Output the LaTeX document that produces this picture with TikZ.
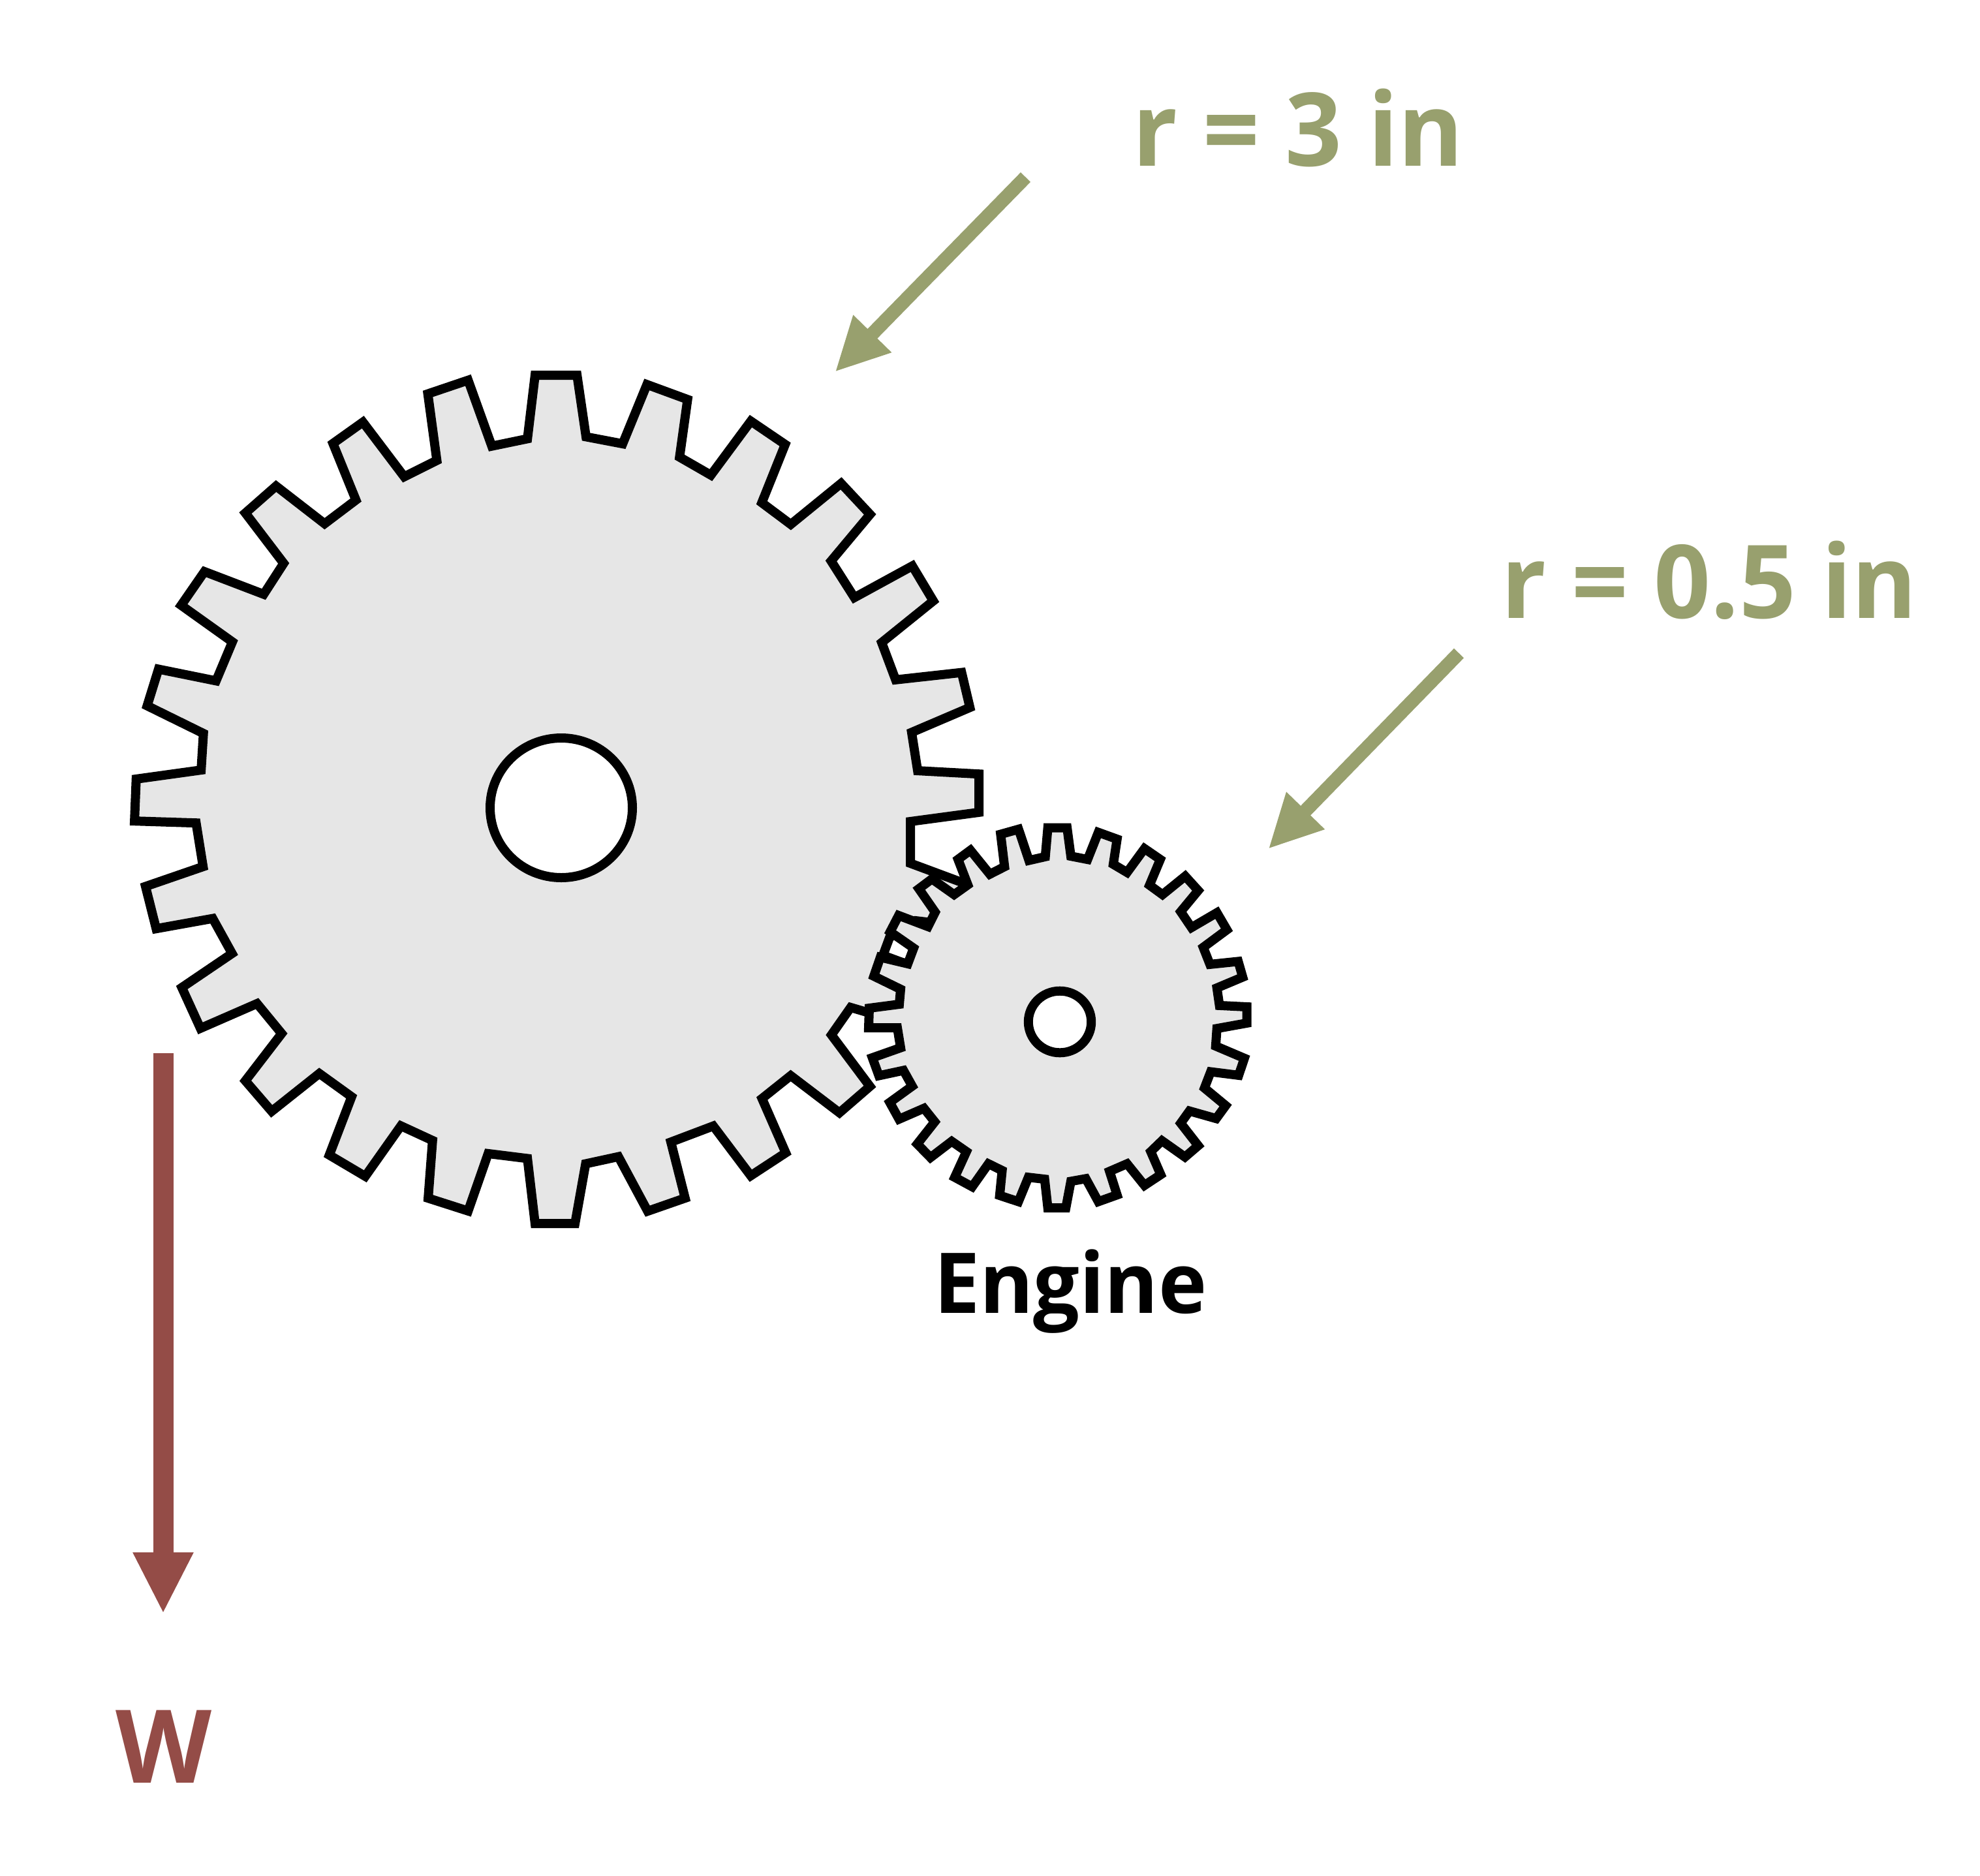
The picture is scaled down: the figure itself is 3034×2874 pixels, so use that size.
\documentclass[tikz,border=0pt]{standalone}
\usepackage{fontspec}
\setmainfont{Open Sans}[FakeStretch=0.975]
\usetikzlibrary{arrows.meta}
\definecolor{gearfill}{HTML}{E6E6E6}
\definecolor{olivetone}{HTML}{98A06E}
\definecolor{bricktone}{HTML}{944C47}
\tikzset{
  gearbody/.style={draw=black,fill=gearfill,line width=7pt,line join=miter,miter limit=10},
  gearhole/.style={draw=black,fill=white,line width=7pt},
  labeltext/.style={anchor=base west,inner sep=0pt,outer sep=0pt,font=\fontsize{78}{78}\selectfont\bfseries},
  olivearrow/.style={draw=olivetone,line width=10.5pt,line cap=butt,-{Triangle[length=41pt,width=38pt]}},
  weightarrow/.style={draw=bricktone,line width=15.5pt,line cap=butt,-{Triangle[length=47pt,width=43pt]}}
}
\begin{document}
\begin{tikzpicture}[x=0.5pt,y=-0.5pt]
\useasboundingbox (0,0) rectangle (3034,2874);
% large gear
\path[gearbody] (819.9,575)--(808.2,672.4)--(753.6,683.7)--(717.3,582.7)--(655.6,603.6)--(669.4,705.6)--(619.4,730.6)--(556.1,646.9)--(510.2,679.6)--(545.4,766.3)--(497.4,802.6)--(423,744.9)--(376,786.2)--(434.7,863.3)--(404.1,910.7)--(313.3,876)--(277.6,927.6)--(356.1,983.7)--(331.1,1043.4)--(242.9,1025.5)--(225.5,1081.6)--(311.7,1124)--(308.2,1180.1)--(208.7,1193.9)--(206.1,1258.2)--(300.5,1261.2)--(311.2,1328.1)--(223,1358.5)--(239.3,1423.2)--(326,1407.6)--(355.6,1461.2)--(278.6,1513.4)--(307.1,1575.9)--(393.9,1538)--(431.6,1583.9)--(376,1656.3)--(416.3,1703.1)--(489.3,1645.1)--(538.8,1680.8)--(504.6,1770.1)--(559.7,1802.7)--(614.3,1725.4)--(662.8,1747.8)--(656.1,1836.2)--(717.3,1855.8)--(748,1767.9)--(808.2,1775.4)--(819.9,1875)--(881.1,1875)--(897.4,1783.5)--(947.6,1772.6)--(992.4,1856.1)--(1049.8,1836.1)--(1028,1750.2)--(1093,1725.6)--(1150.4,1801.8)--(1204,1766.7)--(1167.6,1683.5)--(1211.6,1648.4)--(1286.3,1705.3)--(1333,1664.9)--(1274,1586)--(1303.5,1543.9)--(1450,1587)--(1450,1500)--(1353,1464)--(1363,1437)--(1403,1411)--(1420,1413)--(1470,1420)--(1500,1362)--(1395,1323)--(1395,1259)--(1500,1244.9)--(1500,1186.2)--(1406.1,1181.1)--(1396.9,1122.4)--(1486.2,1084.2)--(1473.5,1030.6)--(1372.4,1041.8)--(1351,984.7)--(1430.1,920.9)--(1398,867.3)--(1309.2,915.8)--(1273.5,859.7)--(1333.2,788.3)--(1288.8,740.8)--(1211.7,803.6)--(1167.3,770.4)--(1203.1,681.1)--(1150.5,645.4)--(1089.3,728.1)--(1041.3,700.5)--(1053.6,612.2)--(991.3,589.3)--(954.1,680.1)--(898,669.4)--(884.2,575)--cycle;
\path[gearhole] (860,1238) circle[x radius=109,y radius=107];
% small gear
\path[gearbody] (1605.6,1268.6)--(1635.1,1268.6)--(1640.9,1312.1)--(1666.5,1317.1)--(1683,1275.6)--(1711.7,1286)--(1705.9,1324.5)--(1727,1337)--(1753.7,1300.5)--(1777.9,1317.1)--(1761.4,1356.5)--(1781.3,1371)--(1816.1,1342.8)--(1836,1364.7)--(1809.2,1397.1)--(1825.7,1421.5)--(1864.7,1398.7)--(1880,1424.9)--(1843.7,1451.8)--(1854,1477.9)--(1897.3,1473.4)--(1904.2,1497.4)--(1864.7,1514)--(1868.6,1540.9)--(1910.6,1543)--(1910.6,1567.9)--(1864.7,1576.2)--(1862.8,1603.1)--(1906.8,1621.8)--(1898,1647.9)--(1855.2,1642.5)--(1845.6,1667.4)--(1878.1,1694.3)--(1863.6,1714.2)--(1822.6,1702.6)--(1809.2,1721.3)--(1836,1755.7)--(1815.7,1773.1)--(1780.5,1748.2)--(1763.3,1764.8)--(1778.6,1800.1)--(1753.7,1816.6)--(1727,1783.5)--(1700.2,1795.1)--(1711.7,1831.2)--(1683,1841.5)--(1663.8,1806.3)--(1640.9,1810.4)--(1633.2,1851.1)--(1605.6,1851.1)--(1600.7,1807.1)--(1575.8,1804.2)--(1560.5,1841.5)--(1531.8,1832)--(1535.6,1793.8)--(1514.6,1783.5)--(1489.7,1818.7)--(1462.9,1804.2)--(1480.9,1764.8)--(1458.3,1749.1)--(1425.8,1773.9)--(1405.5,1753.2)--(1432.3,1719.2)--(1415.8,1698.5)--(1377.6,1715.1)--(1363.4,1689.4)--(1397.8,1664.5)--(1384.4,1640.4)--(1346.7,1648.5)--(1336.7,1621)--(1380,1605.7)--(1375,1575)--(1331,1575)--(1332,1545)--(1378,1539)--(1380,1516)--(1339,1496)--(1349,1467)--(1391,1477)--(1400,1453)--(1364,1428)--(1377,1403)--(1422,1420)--(1433,1398)--(1408,1362)--(1428,1347)--(1462,1371)--(1483,1356)--(1468,1317)--(1487,1303)--(1516.7,1339.7)--(1539.3,1328.2)--(1533.3,1278.5)--(1560.7,1270.8)--(1576.7,1318.6)--(1601.7,1312.9)--cycle;
\path[gearhole] (1624,1566) circle[x radius=48.2,y radius=47.3];
% labels
\node[labeltext,text=olivetone] (big) at (1735,254) {r = 3 in};
\node[labeltext,text=olivetone] (small) at (2300,947.5) {r = 0.5 in};
\node[labeltext,text=black,font=\fontsize{64.3}{64.3}\selectfont\bfseries] (engine) at (1431,2012) {Engine};
\node[labeltext,text=bricktone] (weight) at (177,2732) {W};
% arrows
\coordinate (a1s) at (1571.5,271.5);
\coordinate (a1e) at (1279.5,570);
\coordinate (a2s) at (2235.5,1001);
\coordinate (a2e) at (1943.4,1301);
\coordinate (a3s) at (250,1614);
\coordinate (a3e) at (250,2473);
\draw[olivearrow] (a1s) -- (a1e);
\draw[olivearrow] (a2s) -- (a2e);
\draw[weightarrow] (a3s) -- (a3e);
\end{tikzpicture}
\end{document}
